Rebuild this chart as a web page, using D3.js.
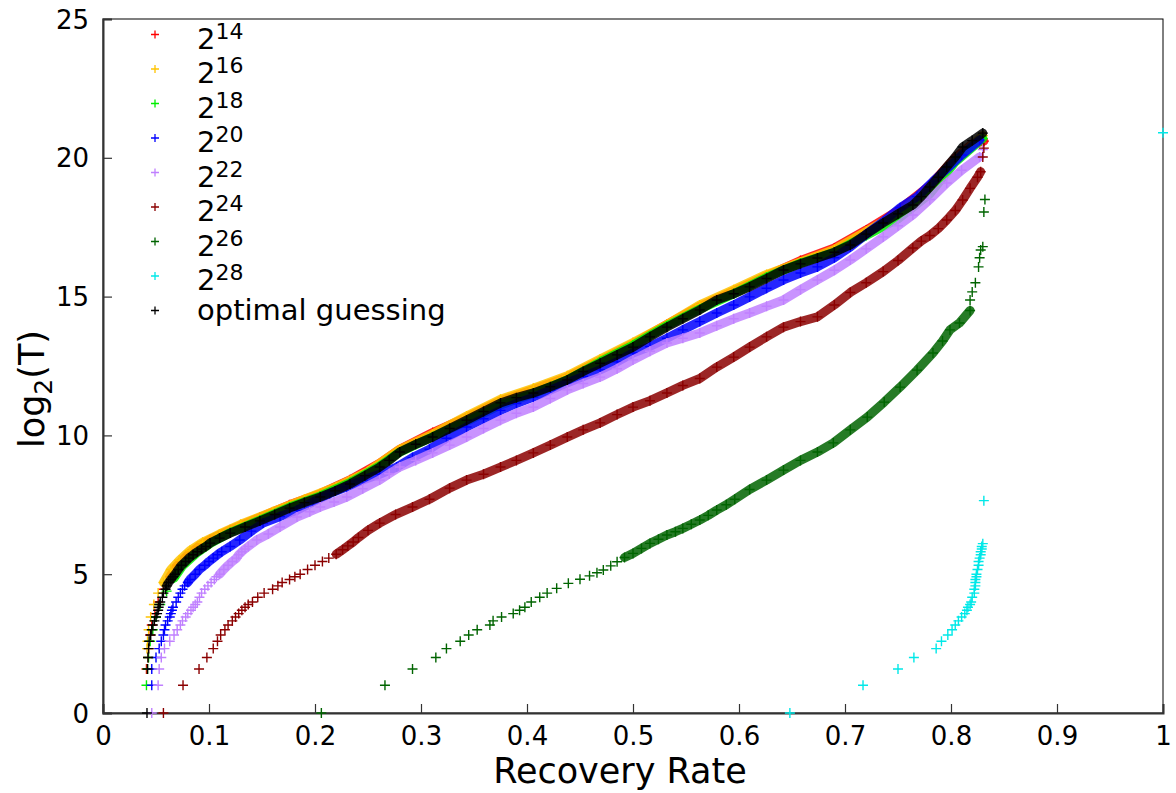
<!DOCTYPE html>
<html>
<head>
<meta charset="utf-8">
<script src="https://cdn.jsdelivr.net/npm/d3@7"></script>
<style>
  body { margin: 0; background: #fff; }
  text { font-family: "DejaVu Sans", sans-serif; fill: #000; }
</style>
</head>
<body>
<div id="chart"></div>
<script>
// ---- data: [recovery rate, log2(T)] ----
const xTicks = [0, 0.1, 0.2, 0.3, 0.4, 0.5, 0.6, 0.7, 0.8, 0.9, 1];
const xTickLabels = ["0", "0.1", "0.2", "0.3", "0.4", "0.5", "0.6", "0.7", "0.8", "0.9", "1"];
const yTicks = [0, 5, 10, 15, 20, 25];
const legendExps = ["14", "16", "18", "20", "22", "24", "26", "28"];

const s14 = [[0.041,1.585],[0.0425,2],[0.043,2.32],[0.0445,2.81],[0.046,3.17],[0.049,3.58],[0.052,4.0],[0.057,4.46],[0.063,4.91],[0.07,5.32],[0.08,5.7],[0.09,6.0],[0.101,6.25],[0.12,6.6],[0.148,7.05],[0.176,7.5],[0.205,7.9],[0.233,8.4],[0.261,9.0],[0.28,9.5],[0.311,10.1],[0.343,10.65],[0.375,11.25],[0.406,11.65],[0.438,12.1],[0.469,12.7],[0.5,13.3],[0.532,14.0],[0.563,14.65],[0.595,15.2],[0.626,15.75],[0.658,16.3],[0.69,16.75],[0.72,17.4],[0.75,18.1],[0.78,19.0],[0.804,20.0],[0.82,20.5],[0.831,20.6]];
const s16 = [[0.0415,2.32],[0.042,2.585],[0.043,3.0],[0.045,3.46],[0.048,3.91],[0.052,4.32],[0.057,4.7],[0.064,5.17],[0.072,5.5],[0.082,5.85],[0.094,6.15],[0.11,6.45],[0.13,6.8],[0.16,7.25],[0.19,7.7],[0.22,8.15],[0.25,8.7],[0.28,9.5],[0.311,10.05],[0.343,10.7],[0.375,11.3],[0.406,11.7],[0.438,12.15],[0.469,12.75],[0.5,13.35],[0.532,14.0],[0.563,14.7],[0.595,15.25],[0.626,15.8],[0.658,16.25],[0.69,16.7],[0.72,17.35],[0.75,18.0],[0.78,18.9],[0.804,19.9],[0.83,20.8]];
const s18 = [[0.041,1.0],[0.042,1.585],[0.043,2.0],[0.0445,2.585],[0.047,3.0],[0.05,3.46],[0.054,3.91],[0.06,4.39],[0.067,4.86],[0.075,5.3],[0.088,5.75],[0.101,6.1],[0.12,6.5],[0.148,6.95],[0.176,7.42],[0.205,7.82],[0.233,8.3],[0.261,8.9],[0.28,9.4],[0.311,9.95],[0.343,10.5],[0.375,11.1],[0.406,11.5],[0.438,12.0],[0.469,12.65],[0.5,13.25],[0.532,13.95],[0.563,14.55],[0.595,15.1],[0.626,15.7],[0.658,16.2],[0.69,16.6],[0.72,17.2],[0.75,17.8],[0.78,18.7],[0.804,19.85],[0.83,20.7]];
const s20 = [[0.046,1],[0.046,1.585],[0.05,2],[0.053,2.32],[0.055,2.585],[0.057,2.81],[0.058,3],[0.059,3.17],[0.061,3.32],[0.063,3.46],[0.064,3.58],[0.065,3.7],[0.066,3.81],[0.069,4.0],[0.071,4.17],[0.073,4.32],[0.075,4.46],[0.077,4.58],[0.08,4.7],[0.082,4.81],[0.087,5.0],[0.091,5.17],[0.096,5.32],[0.1,5.46],[0.104,5.58],[0.108,5.7],[0.112,5.81],[0.12,6.0],[0.129,6.23],[0.14,6.55],[0.151,6.84],[0.167,7.08],[0.183,7.3],[0.198,7.6],[0.214,7.9],[0.23,8.15],[0.245,8.39],[0.261,8.6],[0.277,8.86],[0.292,9.2],[0.308,9.5],[0.324,9.9],[0.343,10.3],[0.359,10.6],[0.375,10.9],[0.39,11.15],[0.406,11.38],[0.422,11.63],[0.438,11.89],[0.453,12.12],[0.469,12.36],[0.485,12.65],[0.5,12.97],[0.516,13.2],[0.532,13.5],[0.547,13.8],[0.563,14.1],[0.579,14.41],[0.595,14.7],[0.61,14.99],[0.626,15.3],[0.642,15.6],[0.658,15.85],[0.674,16.07],[0.69,16.4],[0.705,16.79],[0.72,17.25],[0.736,17.7],[0.752,18.2],[0.768,18.6],[0.783,19.15],[0.796,19.6],[0.81,20.1],[0.827,20.64]];
const s22 = [[0.046,0],[0.052,1],[0.053,1.585],[0.055,2],[0.058,2.32],[0.063,2.585],[0.067,2.81],[0.07,3],[0.073,3.17],[0.075,3.32],[0.078,3.46],[0.08,3.58],[0.083,3.7],[0.085,3.81],[0.087,3.91],[0.089,4.0],[0.091,4.17],[0.093,4.32],[0.096,4.46],[0.099,4.58],[0.102,4.7],[0.105,4.81],[0.107,4.91],[0.11,5.0],[0.114,5.17],[0.118,5.32],[0.122,5.46],[0.126,5.58],[0.128,5.7],[0.131,5.81],[0.134,5.91],[0.137,6.0],[0.145,6.23],[0.156,6.45],[0.167,6.7],[0.183,7.06],[0.195,7.25],[0.205,7.42],[0.218,7.6],[0.23,7.78],[0.245,8.08],[0.261,8.39],[0.27,8.62],[0.28,8.86],[0.295,9.1],[0.311,9.37],[0.327,9.65],[0.343,9.94],[0.359,10.25],[0.375,10.55],[0.39,10.8],[0.406,11.02],[0.422,11.33],[0.438,11.64],[0.453,11.87],[0.469,12.1],[0.485,12.4],[0.5,12.72],[0.516,13.03],[0.532,13.33],[0.547,13.5],[0.563,13.69],[0.579,13.95],[0.595,14.2],[0.61,14.41],[0.626,14.65],[0.642,14.88],[0.658,15.25],[0.674,15.6],[0.69,15.95],[0.705,16.32],[0.72,16.72],[0.736,17.15],[0.75,17.55],[0.764,17.94],[0.78,18.5],[0.796,19.09],[0.81,19.55],[0.827,20.03],[0.83,20.3]];
const s24 = [[0.057,0],[0.0755,1],[0.0906,1.585],[0.098,2],[0.104,2.32],[0.108,2.585],[0.111,2.81],[0.115,3],[0.118,3.17],[0.122,3.32],[0.125,3.46],[0.128,3.58],[0.131,3.7],[0.134,3.81],[0.137,3.91],[0.141,4.0],[0.146,4.17],[0.152,4.32],[0.16,4.46],[0.165,4.58],[0.169,4.7],[0.176,4.81],[0.181,4.91],[0.186,5.0],[0.193,5.17],[0.2,5.32],[0.207,5.46],[0.213,5.58],[0.22,5.72],[0.226,5.88],[0.231,6.02],[0.236,6.16],[0.241,6.32],[0.25,6.58],[0.261,6.84],[0.276,7.15],[0.292,7.42],[0.308,7.7],[0.327,8.1],[0.343,8.39],[0.359,8.6],[0.375,8.86],[0.39,9.1],[0.406,9.37],[0.422,9.65],[0.438,9.94],[0.453,10.2],[0.469,10.45],[0.485,10.75],[0.5,11.02],[0.516,11.25],[0.532,11.53],[0.547,11.8],[0.563,12.05],[0.579,12.46],[0.595,12.82],[0.61,13.18],[0.626,13.55],[0.642,13.9],[0.658,14.1],[0.674,14.27],[0.69,14.7],[0.705,15.15],[0.72,15.5],[0.736,15.9],[0.75,16.3],[0.764,16.75],[0.772,17.0],[0.78,17.2],[0.788,17.45],[0.796,17.76],[0.804,18.1],[0.811,18.48],[0.818,18.9],[0.825,19.3],[0.828,19.5],[0.83,20.03],[0.831,20.35]];
const s26 = [[0.206,0],[0.266,1],[0.292,1.585],[0.314,2],[0.324,2.32],[0.337,2.585],[0.345,2.81],[0.353,3.0],[0.365,3.17],[0.368,3.32],[0.376,3.46],[0.387,3.58],[0.393,3.7],[0.398,3.81],[0.404,4.0],[0.412,4.17],[0.419,4.32],[0.428,4.49],[0.439,4.67],[0.45,4.82],[0.459,4.94],[0.466,5.05],[0.472,5.15],[0.479,5.3],[0.485,5.45],[0.492,5.6],[0.5,5.75],[0.508,5.93],[0.516,6.11],[0.524,6.26],[0.532,6.41],[0.54,6.53],[0.547,6.65],[0.555,6.8],[0.563,6.95],[0.571,7.12],[0.579,7.31],[0.588,7.5],[0.596,7.7],[0.61,8.05],[0.626,8.39],[0.642,8.75],[0.658,9.1],[0.674,9.4],[0.689,9.73],[0.705,10.2],[0.721,10.66],[0.737,11.2],[0.752,11.74],[0.768,12.35],[0.783,12.97],[0.792,13.4],[0.799,13.8],[0.808,14.05],[0.818,14.5],[0.818,14.88],[0.82,15.17],[0.823,15.5],[0.826,16.07],[0.827,16.4],[0.828,16.68],[0.83,16.8],[0.831,18.05],[0.832,18.5]];
const s28 = [[0.648,0],[0.717,1],[0.75,1.585],[0.765,2],[0.786,2.32],[0.791,2.585],[0.797,2.81],[0.801,3.0],[0.804,3.17],[0.807,3.32],[0.81,3.46],[0.813,3.58],[0.815,3.7],[0.816,3.81],[0.818,3.91],[0.819,4.0],[0.82,4.17],[0.822,4.32],[0.822,4.46],[0.823,4.58],[0.823,4.7],[0.823,4.81],[0.824,4.91],[0.824,5.0],[0.825,5.17],[0.826,5.32],[0.826,5.46],[0.827,5.58],[0.828,5.7],[0.828,5.81],[0.829,5.91],[0.829,6.0],[0.83,6.1],[0.831,7.65],[1.0,20.9]];
const sOpt = [[0.0415,0],[0.042,1.585],[0.0425,2],[0.043,2.32],[0.0435,2.585],[0.045,2.81],[0.046,3],[0.047,3.17],[0.0485,3.32],[0.05,3.46],[0.051,3.58],[0.052,3.7],[0.0525,3.81],[0.053,3.91],[0.054,4.0],[0.056,4.17],[0.057,4.32],[0.059,4.46],[0.06,4.58],[0.062,4.7],[0.064,4.81],[0.066,4.91],[0.068,5.0],[0.071,5.17],[0.074,5.32],[0.078,5.46],[0.081,5.58],[0.085,5.7],[0.089,5.81],[0.093,5.91],[0.097,6.0],[0.101,6.12],[0.11,6.3],[0.12,6.48],[0.134,6.7],[0.148,6.92],[0.162,7.15],[0.176,7.38],[0.19,7.58],[0.205,7.78],[0.219,8.0],[0.233,8.25],[0.247,8.55],[0.261,8.86],[0.27,9.1],[0.28,9.4],[0.295,9.68],[0.311,9.94],[0.327,10.25],[0.343,10.55],[0.359,10.86],[0.375,11.17],[0.39,11.36],[0.406,11.53],[0.422,11.75],[0.438,12.0],[0.453,12.3],[0.469,12.6],[0.485,12.9],[0.5,13.18],[0.516,13.55],[0.532,13.9],[0.547,14.2],[0.563,14.52],[0.579,14.88],[0.595,15.1],[0.61,15.35],[0.626,15.65],[0.642,15.96],[0.658,16.18],[0.674,16.39],[0.69,16.6],[0.705,16.86],[0.72,17.25],[0.736,17.65],[0.75,17.98],[0.764,18.3],[0.772,18.6],[0.78,18.95],[0.788,19.3],[0.796,19.67],[0.804,20.03],[0.811,20.39],[0.82,20.62],[0.83,20.89]];

// series in gnuplot plotting order (last on top); band = y range where marks are dense
const series = [
  { label: "14", data: s14, color: "#ff0000", band: [4.5, 21] },
  { label: "16", data: s16, color: "#ffc400", band: [4.5, 21] },
  { label: "18", data: s18, color: "#00ee00", band: [4.5, 21] },
  { label: "20", data: s20, color: "#0000ff", band: [4.6, 21] },
  { label: "22", data: s22, color: "#c080ff", band: [5.0, 20.1] },
  { label: "24", data: s24, color: "#8b0000", band: [5.6, 19.6] },
  { label: "26", data: s26, color: "#006400", band: [5.6, 14.6] },
  { label: "28", data: s28, color: "#00e8e8", band: null },
  { label: "optimal guessing", data: sOpt, color: "#000000", band: [4.5, 21] }
];

const width = 1176, height = 793;
const margin = { top: 19, right: 13, bottom: 80, left: 103 };

const svg = d3.select("#chart")
  .append("svg")
  .attr("width", width)
  .attr("height", height);

const x = d3.scaleLinear().domain([0, 1]).range([margin.left, width - margin.right]);
const y = d3.scaleLinear().domain([0, 25]).range([height - margin.bottom, margin.top]);

// border box
svg.append("rect")
  .attr("x", x(0)).attr("y", y(25))
  .attr("width", x(1) - x(0)).attr("height", y(0) - y(25))
  .attr("fill", "none").attr("stroke", "#000").attr("stroke-width", 1);

// axes with inward ticks
const xAxis = svg.append("g")
  .attr("transform", `translate(0,${y(0)})`)
  .call(d3.axisBottom(x).tickValues(xTicks).tickSize(-9)
    .tickFormat((d, i) => xTickLabels[i]));
const yAxis = svg.append("g")
  .attr("transform", `translate(${x(0)},0)`)
  .call(d3.axisLeft(y).tickValues(yTicks).tickSize(-9).tickPadding(14));

[xAxis, yAxis].forEach(g => {
  g.select(".domain").attr("stroke", "#333").attr("stroke-width", 2);
  g.selectAll(".tick line").attr("stroke", "#333").attr("stroke-width", 1.2);
  g.selectAll(".tick text").style("font-size", "26px").attr("fill", "#000");
});
xAxis.selectAll(".tick text").attr("y", 32).attr("dy", null);
yAxis.selectAll(".tick text").attr("dy", "0.35em");

// axis titles
svg.append("text")
  .attr("x", 620).attr("y", 783)
  .attr("text-anchor", "middle")
  .style("font-size", "35px")
  .text("Recovery Rate");

const ylab = svg.append("text")
  .attr("transform", `translate(44,389) rotate(-90)`)
  .attr("text-anchor", "middle")
  .style("font-size", "35px");
ylab.append("tspan").text("log");
ylab.append("tspan").attr("dy", 8).style("font-size", "25px").text("2");
ylab.append("tspan").attr("dy", -8).text("(T)");

// marks
const cross = s => `M${-s},0H${s}M0,${-s}V${s}`;
const line = d3.line().x(d => x(d[0])).y(d => y(d[1]));

series.forEach(s => {
  const g = svg.append("g");
  if (s.band) {
    const dense = s.data.filter(d => d[1] >= s.band[0] && d[1] <= s.band[1]);
    g.append("path")
      .attr("d", line(dense))
      .attr("fill", "none")
      .attr("stroke", s.color)
      .attr("stroke-width", 9)
      .attr("stroke-linejoin", "round")
      .attr("stroke-linecap", "round")
      .attr("opacity", 0.85);
  }
  g.selectAll("path.pt")
    .data(s.data)
    .join("path")
    .attr("class", "pt")
    .attr("d", cross(5))
    .attr("transform", d => `translate(${x(d[0])},${y(d[1])})`)
    .attr("stroke", s.color)
    .attr("stroke-width", 1.4)
    .attr("fill", "none");
});

// legend
const legend = svg.append("g");
series.forEach((s, i) => {
  const ry = 34.5 + i * 34.5;
  legend.append("path")
    .attr("d", cross(4))
    .attr("transform", `translate(155,${ry})`)
    .attr("stroke", s.color)
    .attr("stroke-width", 1.3);
  const t = legend.append("text").attr("x", 197).style("font-size", "29px");
  if (i < legendExps.length) {
    t.attr("y", ry + 14);
    t.append("tspan").text("2");
    t.append("tspan").attr("dy", -10).style("font-size", "22px").text(legendExps[i]);
  } else {
    t.attr("y", ry + 9).text(s.label);
  }
});
</script>
</body>
</html>
